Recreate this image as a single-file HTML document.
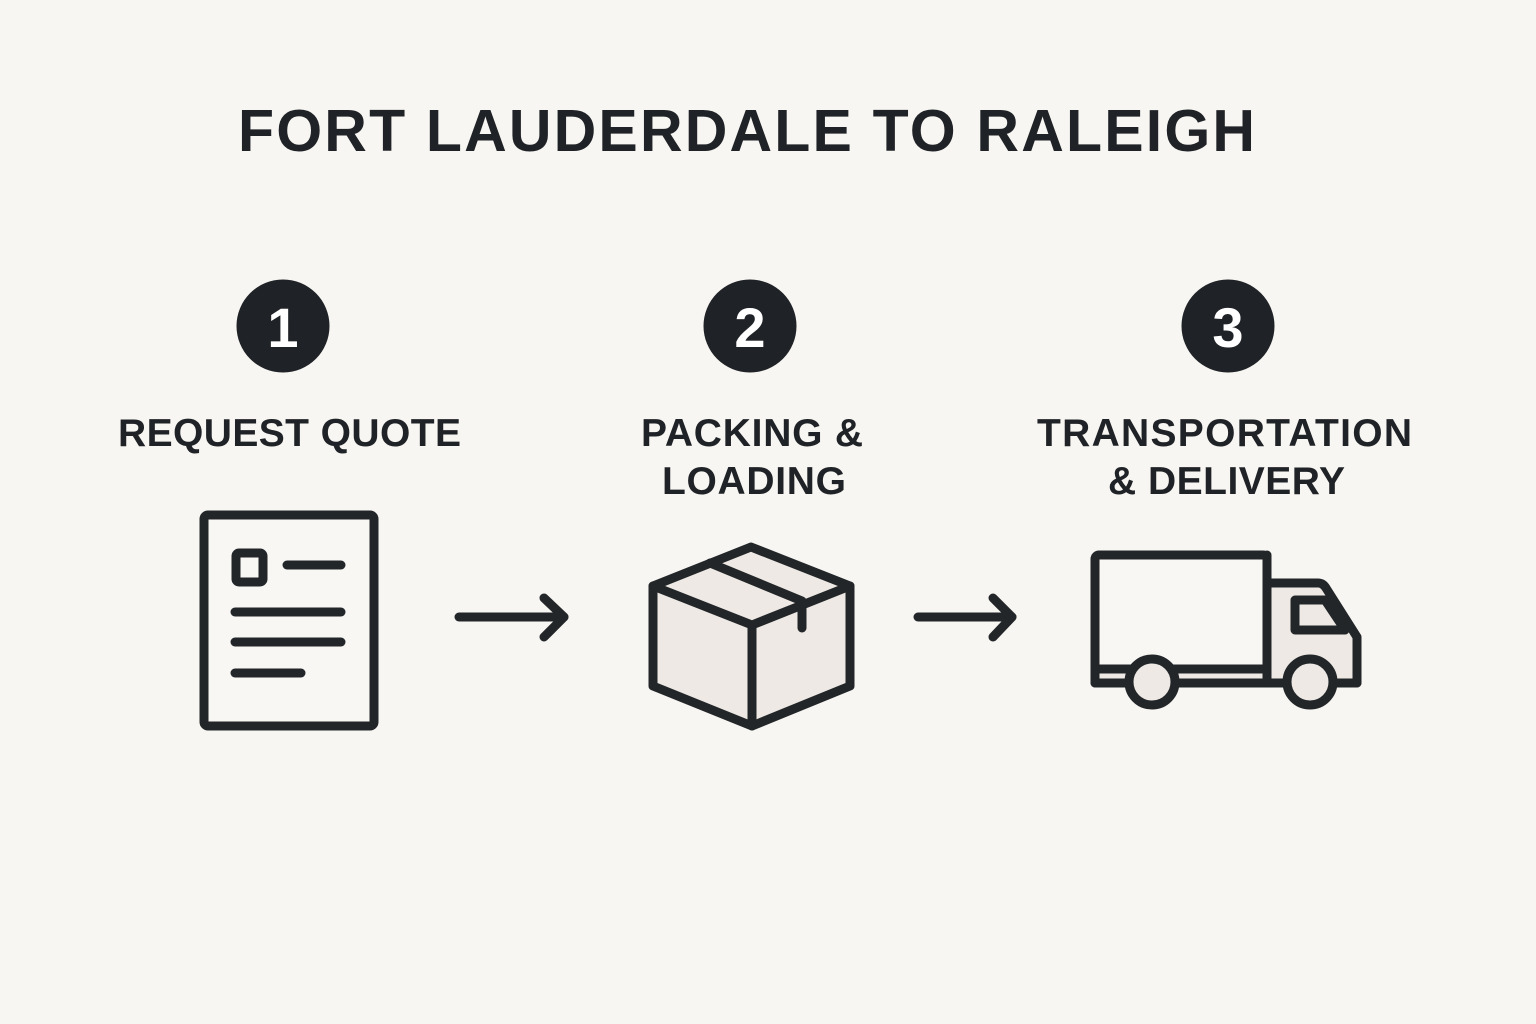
<!DOCTYPE html>
<html>
<head>
<meta charset="utf-8">
<style>
  html,body{margin:0;padding:0;background:#f8f6f2;}
  body{width:1536px;height:1024px;overflow:hidden;}
  svg{display:block;}
  text{font-family:"Liberation Sans","DejaVu Sans",sans-serif;font-weight:bold;}
</style>
</head>
<body>
<svg width="1536" height="1024" viewBox="0 0 1536 1024" xmlns="http://www.w3.org/2000/svg">
  <rect width="1536" height="1024" fill="#f8f6f2"/>

  <!-- Title -->
  <text x="238" y="151" font-size="59" fill="#1f2226" textLength="1017" lengthAdjust="spacing">FORT LAUDERDALE TO RALEIGH</text>

  <!-- Number circles -->
  <circle cx="283" cy="326" r="46.5" fill="#1f2226"/>
  <circle cx="750" cy="326" r="46.5" fill="#1f2226"/>
  <circle cx="1228" cy="326" r="46.5" fill="#1f2226"/>
  <text x="283" y="347" font-size="56" fill="#ffffff" text-anchor="middle">1</text>
  <text x="750" y="347" font-size="56" fill="#ffffff" text-anchor="middle">2</text>
  <text x="1228" y="347" font-size="56" fill="#ffffff" text-anchor="middle">3</text>

  <!-- Labels -->
  <g fill="#1f2226" font-size="39">
    <text x="118" y="446" textLength="343" lengthAdjust="spacing">REQUEST QUOTE</text>
    <text x="641" y="446" textLength="222" lengthAdjust="spacing">PACKING &amp;</text>
    <text x="662" y="494" textLength="184" lengthAdjust="spacing">LOADING</text>
    <text x="1037" y="446" textLength="375" lengthAdjust="spacing">TRANSPORTATION</text>
    <text x="1108" y="494" textLength="237" lengthAdjust="spacing">&amp; DELIVERY</text>
  </g>

  <g stroke="#222629" stroke-width="9" stroke-linecap="round" stroke-linejoin="round">
    <!-- Document icon -->
    <rect x="204" y="515" width="170" height="211" rx="4" fill="#f9f7f4"/>
    <rect x="236" y="553" width="27" height="29" rx="3" fill="#f9f7f4"/>
    <line x1="287" y1="565" x2="341" y2="565"/>
    <line x1="235" y1="612" x2="341" y2="612"/>
    <line x1="235" y1="642" x2="341" y2="642"/>
    <line x1="235" y1="673" x2="301" y2="673"/>

    <g fill="none">
      <!-- Arrow 1 -->
      <line x1="459" y1="617" x2="564" y2="617"/>
      <polyline points="544,598 564,617 544,637"/>
      <!-- Arrow 2 -->
      <line x1="918" y1="617" x2="1012" y2="617"/>
      <polyline points="993,598 1012,617 993,637"/>
    </g>

    <!-- Box icon -->
    <polygon points="751,547 850,586 850,686 752,726 653,686 653,586" fill="#eee9e4"/>
    <polyline points="653,586 752,625 850,586" fill="none"/>
    <line x1="752" y1="625" x2="752" y2="726"/>
    <line x1="710" y1="563" x2="802" y2="601"/>
    <line x1="802" y1="603" x2="802" y2="628"/>

    <!-- Truck icon -->
    <path d="M1267,583 L1318,583 Q1323,583 1326,588 L1357,637 L1357,683 L1267,683 Z" fill="#eee9e4"/>
    <rect x="1095" y="555" width="172" height="128" rx="4" fill="#f9f7f4"/>
    <rect x="1095" y="669" width="172" height="14" fill="#eee9e4" stroke="none"/>
    <line x1="1095" y1="669" x2="1267" y2="669"/>
    <line x1="1095" y1="683" x2="1357" y2="683"/>
    <line x1="1095" y1="560" x2="1095" y2="683"/>
    <line x1="1267" y1="555" x2="1267" y2="683"/>
    <path d="M1295,600 L1325,600 L1345,630 L1295,630 Z" fill="#eee9e4"/>
    <circle cx="1152" cy="682" r="23" fill="#eee9e4"/>
    <circle cx="1310" cy="682" r="23" fill="#eee9e4"/>
  </g>
</svg>
</body>
</html>
